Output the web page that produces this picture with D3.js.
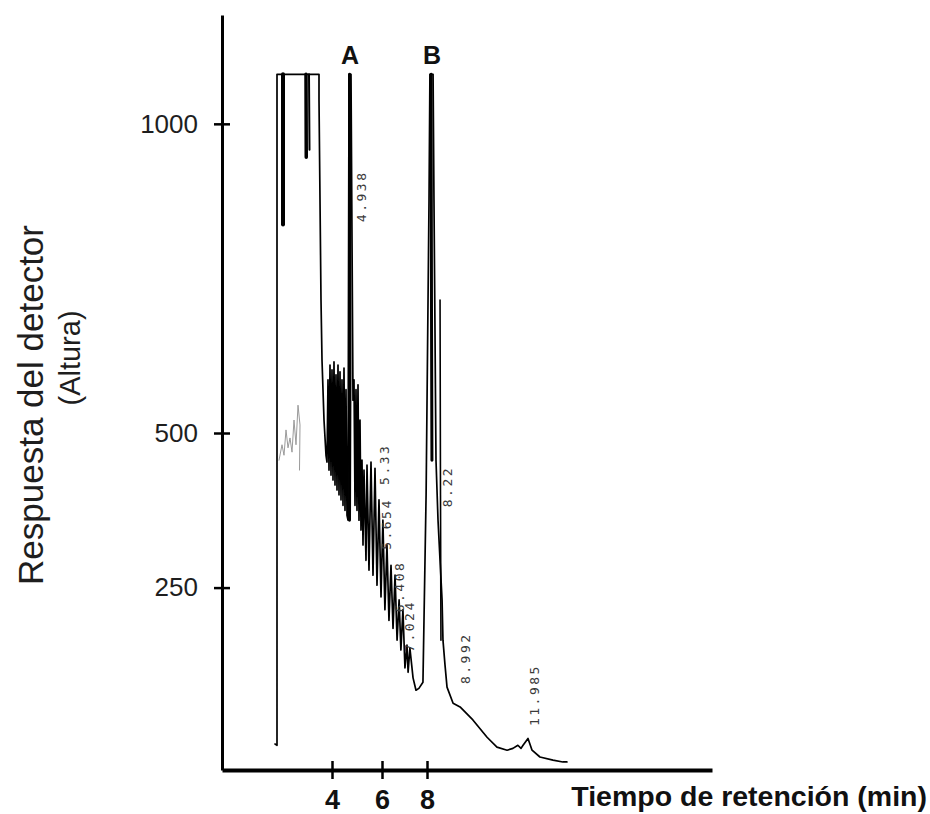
<!DOCTYPE html>
<html>
<head>
<meta charset="utf-8">
<script src="https://cdn.jsdelivr.net/npm/d3@7"></script>
<style>
  html, body { margin: 0; padding: 0; background: #fff; }
  svg { display: block; }
</style>
</head>
<body>
<script>
// Recorded chromatogram: retention time (min) and detector response (height)
const tiempo = [
  1.72, 1.80, 1.80, 3.48, 3.48, 3.52, 3.56, 3.60, 3.68, 3.76,
  3.80, 3.84, 3.88, 3.92, 3.96, 4.00, 4.04, 4.08, 4.12, 4.16, 4.20, 4.24, 4.28, 4.32, 4.36, 4.40, 4.44, 4.48, 4.52, 4.56, 4.60,
  4.64, 4.68, 4.76, 4.84, 4.88, 4.92, 4.96, 5.00, 5.04, 5.08, 5.12, 5.16, 5.20, 5.24, 5.28, 5.36, 5.40, 5.48, 5.56, 5.64, 5.72, 5.80, 5.88, 5.96,
  6.04, 6.13, 6.22, 6.31, 6.40, 6.49, 6.58, 6.67, 6.76, 6.84, 6.93, 7.02, 7.11, 7.16, 7.24, 7.38, 7.51, 7.64, 7.82, 7.96,
  8.09, 8.13, 8.27, 8.31, 8.40, 8.49, 8.58, 8.67, 8.71, 8.80, 8.89, 9.16, 9.47, 10.04, 10.67, 11.11, 11.56, 11.82, 12.04,
  12.18, 12.27, 12.49, 12.67, 13.02, 13.60, 14.04, 14.22
];
const respuesta = [
  -3, -5, 1080, 1080, 1039, 877, 715, 618, 521, 464,
  453, 586, 440, 610, 432, 602, 424, 615, 416, 594, 408, 610, 400, 599, 392, 586, 383, 605, 375, 570, 367,
  359, 1080, 1080, 553, 586, 383, 570, 375, 578, 359, 521, 343, 456, 319, 440, 294, 448, 278, 453, 270, 443, 254, 392, 235,
  359, 214, 319, 197, 286, 184, 270, 165, 230, 149, 214, 120, 157, 113, 152, 104, 84, 87, 97, 400,
  877, 1080, 1080, 877, 456, 359, 294, 230, 165, 125, 89, 63, 57, 36, 8, -8, -13, -10, -5,
  -10, -5, 6, -13, -24, -29, -32, -32
];

// Extra pen strokes over the saturated solvent band and the two main peaks
const trazoSolvente1 = [[2.04, 1080], [2.04, 837]];
const trazoSolvente2 = [[2.96, 1080], [2.97, 946]];
const trazoSolvente3 = [[3.08, 1080], [3.10, 958]];
const columnaA = [[4.70, 1080], [4.72, 600], [4.70, 359]];
const columnaB = [[8.18, 1080], [8.20, 700], [8.22, 456]];
const hombroB = [[8.58, 715], [8.60, 400], [8.62, 165]];
// Faint baseline scatter beside the solvent front
const ruidoSolvente = [
  [1.88, 456], [2.00, 481], [2.08, 464], [2.16, 505], [2.24, 476], [2.32, 492],
  [2.40, 469], [2.48, 521], [2.56, 481], [2.64, 545], [2.72, 513], [2.70, 440]
];

// Peak names
const picos = ["A", "B"];
const tiempoPicos = [4.72, 8.22];

// Retention times printed by the integrator, with the point each one is written from
const textosRetencion = ["4.938", "5.33", "5.654", "6.408", "7.024", "8.22", "8.992", "11.985"];
const tRetencion = [5.16, 6.13, 6.22, 6.76, 7.24, 8.89, 9.73, 12.76];
const vRetencion = [841, 416, 311, 210, 146, 380, 94, 26];

// Axis ticks
const ticksX = [4, 6, 8];
const ticksY = [250, 500, 1000];

const W = 930, H = 814;
const frame = { left: 222, right: 712, top: 15, bottom: 770 };

const svg = d3.select("body").append("svg")
  .attr("width", W).attr("height", H)
  .style("font-family", "'Liberation Sans', Arial, sans-serif");

// The time axis of the recorder paper is not evenly spaced between ticks
const x = d3.scaleLinear()
  .domain([-0.4, 4, 6, 8, 20.67])
  .range([frame.left, 332, 382, 427, frame.right]);

const y = d3.scaleLinear()
  .domain([-45, 1176])
  .range([frame.bottom, frame.top]);

const line = d3.line().x(d => x(d[0])).y(d => y(d[1]));

const trace = svg.append("g").attr("fill", "none").attr("stroke", "#000")
  .attr("stroke-linejoin", "round").attr("stroke-linecap", "round");

trace.append("path")
  .datum(ruidoSolvente)
  .attr("d", line)
  .attr("stroke", "#9a9a9a")
  .attr("stroke-width", 1);

trace.append("path")
  .datum(tiempo.map((t, i) => [t, respuesta[i]]))
  .attr("d", line)
  .attr("stroke-width", 1.7);

[[trazoSolvente1, 4], [trazoSolvente2, 3.5], [trazoSolvente3, 2], [columnaA, 3], [columnaB, 3], [hombroB, 1.6]]
  .forEach(([pts, w]) => {
    trace.append("path").datum(pts).attr("d", line).attr("stroke-width", w);
  });

// Retention time annotations, written upward along the peaks
svg.append("g")
  .selectAll("text")
  .data(textosRetencion)
  .join("text")
  .attr("transform", (d, i) => `translate(${x(tRetencion[i])},${y(vRetencion[i])}) rotate(-90)`)
  .attr("dominant-baseline", "central")
  .attr("font-family", "'DejaVu Sans Mono', monospace")
  .attr("font-size", 13)
  .attr("letter-spacing", 2.5)
  .attr("fill", "#3a3a3a")
  .text(d => d);

// Peak letters
svg.append("g")
  .selectAll("text")
  .data(picos)
  .join("text")
  .attr("x", (d, i) => x(tiempoPicos[i]))
  .attr("y", 64)
  .attr("text-anchor", "middle")
  .attr("font-weight", "bold")
  .attr("font-size", 25)
  .attr("fill", "#111")
  .text(d => d);

// Y axis
const gy = svg.append("g")
  .attr("transform", `translate(${frame.left},0)`)
  .call(d3.axisLeft(y).tickValues(ticksY).tickSizeInner(8).tickSizeOuter(0).tickPadding(16)
    .tickFormat(d3.format("d")));
gy.select(".domain").attr("stroke", "#000").attr("stroke-width", 3);
gy.selectAll(".tick line").attr("x1", 8).attr("stroke", "#000").attr("stroke-width", 2.5);
gy.selectAll(".tick text")
  .attr("font-family", "'Liberation Sans', Arial, sans-serif")
  .attr("font-size", 26).attr("fill", "#1e1e1e");

// X axis
const gx = svg.append("g")
  .attr("transform", `translate(0,${frame.bottom})`)
  .call(d3.axisBottom(x).tickValues(ticksX).tickSizeInner(9).tickSizeOuter(0).tickPadding(11)
    .tickFormat(d3.format("d")));
gx.select(".domain").attr("stroke", "#000").attr("stroke-width", 4);
gx.selectAll(".tick line").attr("y1", -9).attr("stroke", "#000").attr("stroke-width", 2.5);
gx.selectAll(".tick text")
  .attr("font-family", "'Liberation Sans', Arial, sans-serif")
  .attr("font-weight", "bold")
  .attr("font-size", 27).attr("fill", "#111");

// Axis titles
svg.append("text")
  .attr("x", 927).attr("y", 806)
  .attr("text-anchor", "end")
  .attr("font-weight", "bold")
  .attr("font-size", 28.5)
  .attr("fill", "#111")
  .text("Tiempo de retención (min)");

svg.append("text")
  .attr("transform", "translate(43,405) rotate(-90)")
  .attr("text-anchor", "middle")
  .attr("font-size", 35)
  .attr("fill", "#1e1e1e")
  .text("Respuesta del detector");

svg.append("text")
  .attr("transform", "translate(80,358) rotate(-90)")
  .attr("text-anchor", "middle")
  .attr("font-size", 29)
  .attr("fill", "#1e1e1e")
  .text("(Altura)");
</script>
</body>
</html>
